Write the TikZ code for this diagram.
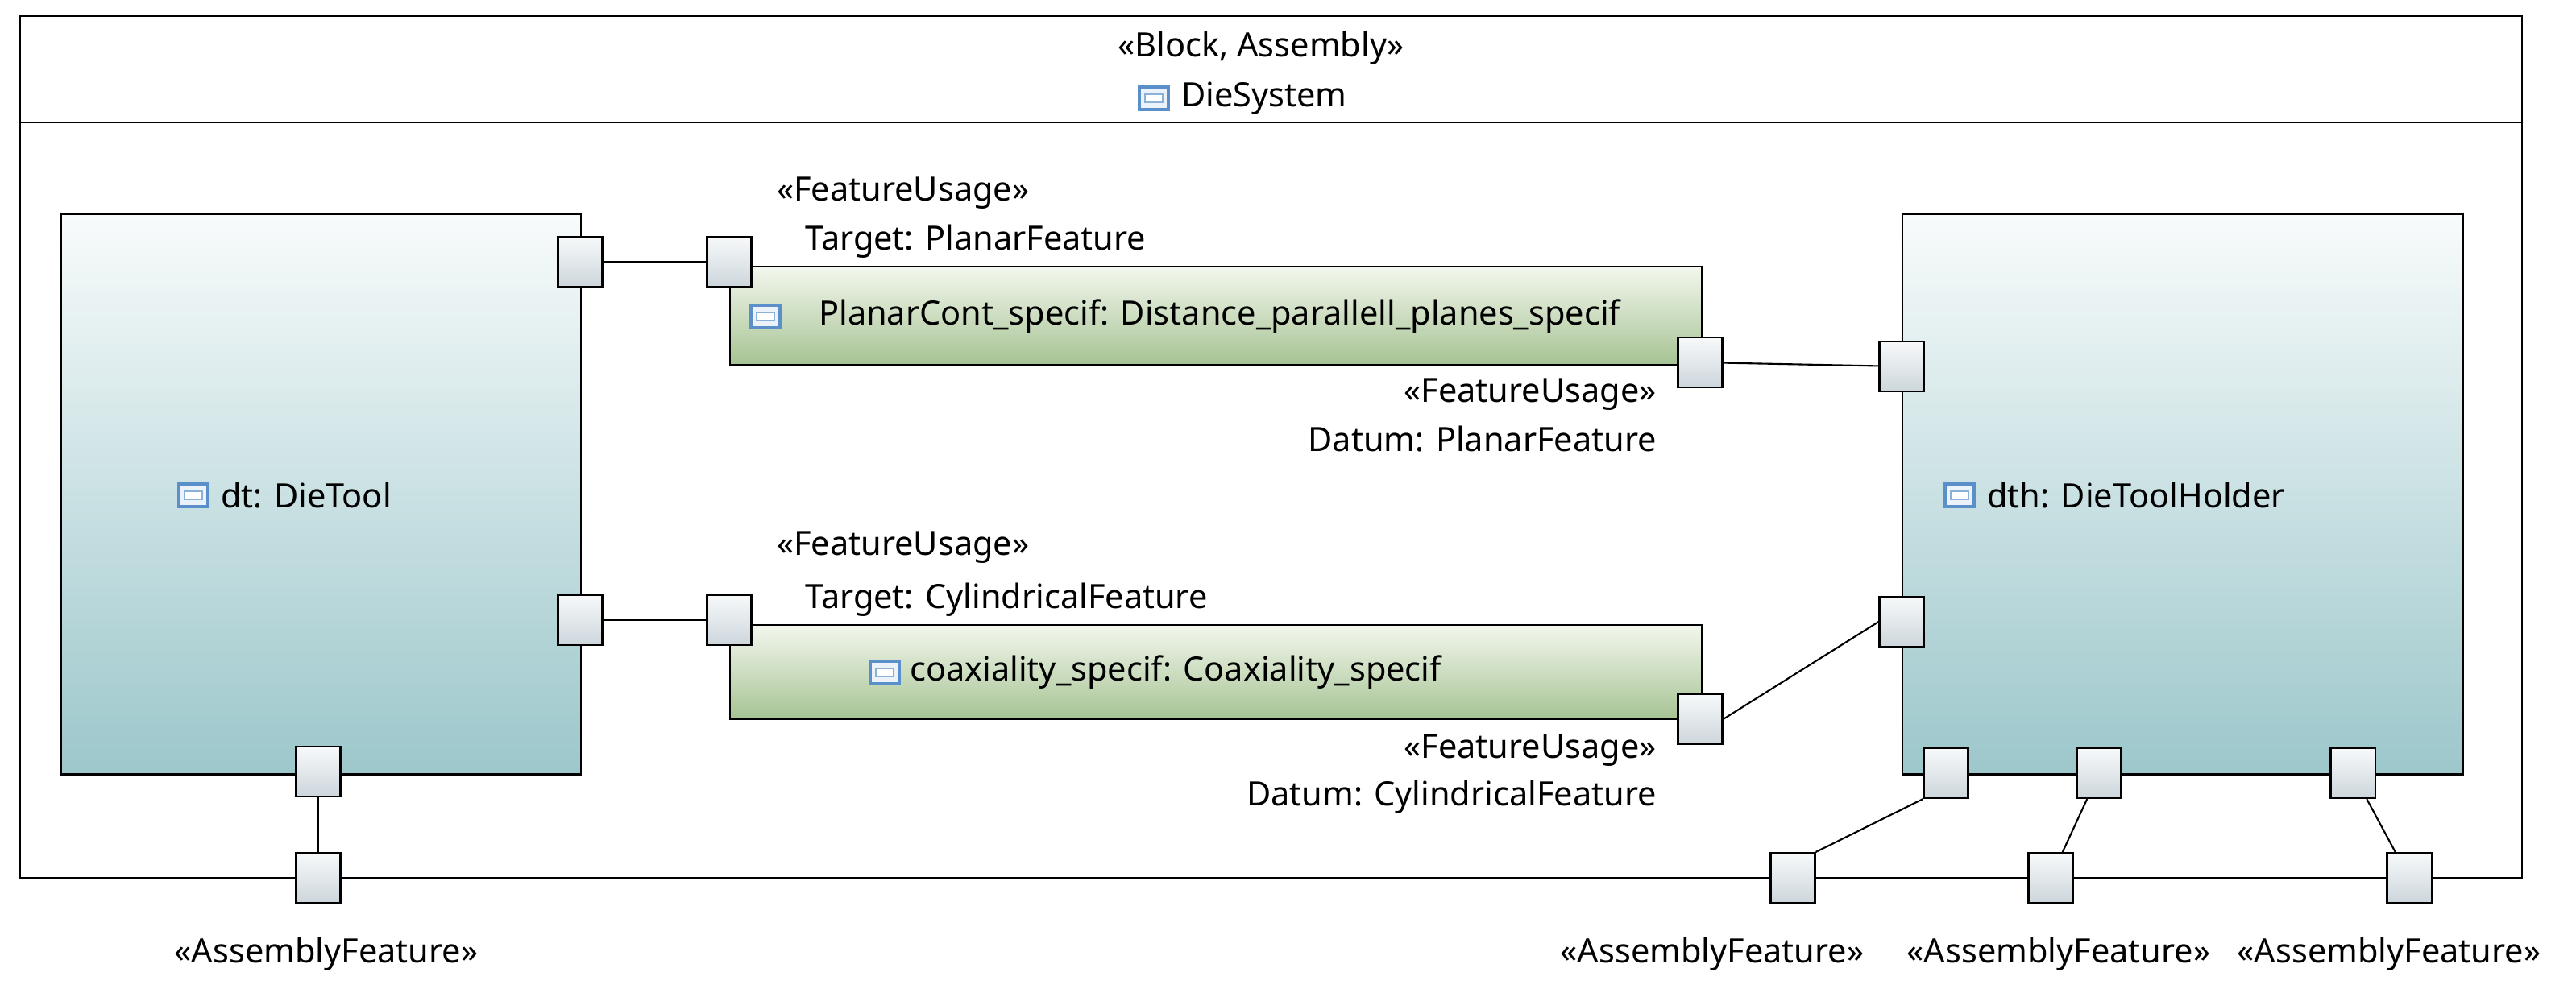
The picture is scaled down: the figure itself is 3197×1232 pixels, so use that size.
\documentclass[tikz,border=0pt]{standalone}
\usepackage{fontspec}
\setmainfont{Noto Sans}
\usetikzlibrary{positioning}
\definecolor{parttop}{HTML}{F8FBFB}
\definecolor{partbot}{HTML}{9CC7CB}
\definecolor{spectop}{HTML}{F3F7EE}
\definecolor{specbot}{HTML}{A6C393}
\definecolor{porttop}{HTML}{F7F9FA}
\definecolor{portbot}{HTML}{CDD6DC}
\definecolor{iconblue}{HTML}{5B8FC9}
\tikzset{
  part/.style={draw, semithick, top color=parttop, bottom color=partbot, anchor=north west},
  spec/.style={draw, semithick, top color=spectop, bottom color=specbot, anchor=north west},
  port/.style={draw, semithick, top color=porttop, bottom color=portbot,
               minimum width=0.55cm, minimum height=0.62cm, inner sep=0pt},
  lbl/.style={font=\fontsize{11.8}{14}\selectfont, inner sep=1pt},
  conn/.style={semithick}
}
\newcommand{\partico}[1]{%
  \node[draw=iconblue, fill=iconblue!12, minimum width=0.36cm, minimum height=0.28cm,
        inner sep=0pt, line width=1pt] at (#1) {};
  \node[draw=iconblue!70, fill=white, minimum width=0.22cm, minimum height=0.1cm,
        inner sep=0pt, line width=0.5pt] at (#1) {};}
\begin{document}
\begin{tikzpicture}[x=0.01cm, y=-0.01cm]
    \useasboundingbox (0,0) rectangle (3197,1232);

    % Frame of the system block
    \draw [semithick] (25,20) rectangle (3130,1090);
    \draw [semithick] (25,152) -- (3130,152);
    \node [lbl] (stereo) at (1565,60) {«Block, Assembly»};
    \node [lbl, anchor=west] (title) at (1462,122) {DieSystem};
    \partico{1432,122}

    % Parts
    \node [part, minimum width=6.45cm, minimum height=6.95cm] (dt) at (75,265) {};
    \node [lbl, anchor=west] (dtname) at (270,615) {dt: DieTool};
    \partico{240,615}
    \node [part, minimum width=6.95cm, minimum height=6.95cm] (dth) at (2360,265) {};
    \node [lbl, anchor=west] (dthname) at (2462,615) {dth: DieToolHolder};
    \partico{2432,615}

    % Specifications
    \node [spec, minimum width=12.05cm, minimum height=1.22cm] (planar) at (905,330) {};
    \node [lbl, anchor=west] (planarname) at (1012,393) {PlanarCont\_specif: Distance\_parallell\_planes\_specif};
    \partico{950,393}
    \node [spec, minimum width=12.05cm, minimum height=1.17cm] (coax) at (905,775) {};
    \node [lbl, anchor=west] (coaxname) at (1125,835) {coaxiality\_specif: Coaxiality\_specif};
    \partico{1098,835}

    % Ports
    \node [port] (dtp1) at (720,325) {};
    \node [port] (dtp2) at (720,770) {};
    \node [port] (dtp3) at (395,958) {};
    \node [port] (pl1) at (905,325) {};
    \node [port] (pl2) at (2110,450) {};
    \node [port] (co1) at (905,770) {};
    \node [port] (co2) at (2110,893) {};
    \node [port] (dthp1) at (2360,455) {};
    \node [port] (dthp2) at (2360,772) {};
    \node [port] (dthp3) at (2415,960) {};
    \node [port] (dthp4) at (2605,960) {};
    \node [port] (dthp5) at (2920,960) {};
    \node [port] (fp1) at (395,1090) {};
    \node [port] (fp2) at (2225,1090) {};
    \node [port] (fp3) at (2545,1090) {};
    \node [port] (fp4) at (2990,1090) {};

    % Connectors
    \draw [conn] (dtp1) -- (pl1);
    \draw [conn] (dtp2) -- (co1);
    \draw [conn] (pl2) -- (dthp1);
    \draw [conn] (co2.east) -- (dthp2.west);
    \draw [conn] (dtp3) -- (fp1);
    \draw [conn] (dthp3.south west) -- (fp2.north east);
    \draw [conn] (dthp4) -- (fp3);
    \draw [conn] (dthp5) -- (fp4);

    % Feature usage labels
    \node [lbl, anchor=west] (fu1) at (960,240) {«FeatureUsage»};
    \node [lbl, anchor=west] (tg1) at (995,300) {Target: PlanarFeature};
    \node [lbl, anchor=east] (fu2) at (2060,490) {«FeatureUsage»};
    \node [lbl, anchor=east] (dm1) at (2060,545) {Datum: PlanarFeature};
    \node [lbl, anchor=west] (fu3) at (960,680) {«FeatureUsage»};
    \node [lbl, anchor=west] (tg2) at (995,745) {Target: CylindricalFeature};
    \node [lbl, anchor=east] (fu4) at (2060,932) {«FeatureUsage»};
    \node [lbl, anchor=east] (dm2) at (2060,990) {Datum: CylindricalFeature};

    % Assembly features
    \node [lbl] (af1) at (405,1185) {«AssemblyFeature»};
    \node [lbl] (af2) at (2125,1185) {«AssemblyFeature»};
    \node [lbl] (af3) at (2555,1185) {«AssemblyFeature»};
    \node [lbl] (af4) at (2965,1185) {«AssemblyFeature»};
\end{tikzpicture}
\end{document}
